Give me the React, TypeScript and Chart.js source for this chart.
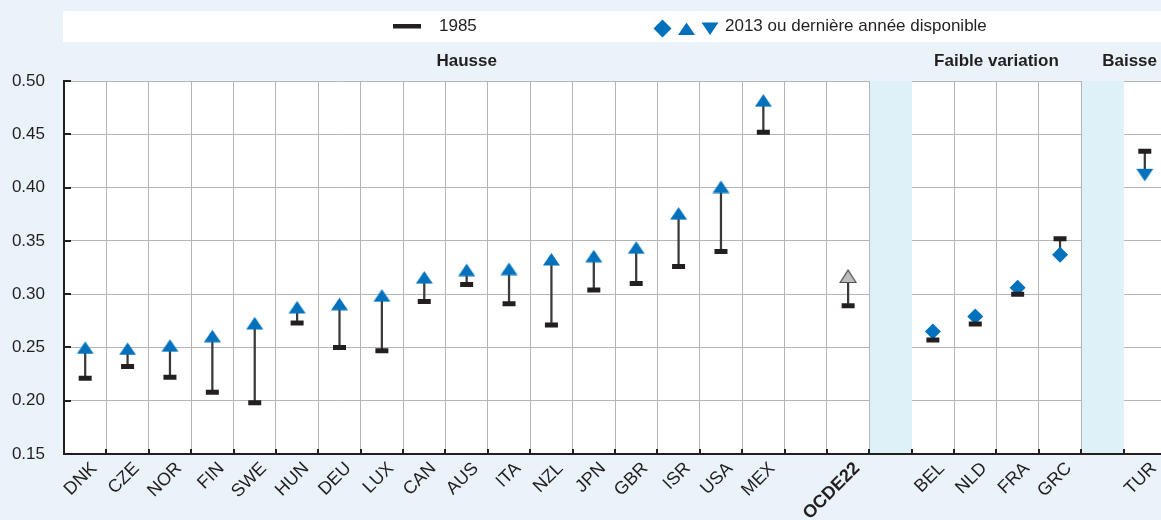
import React, { useEffect, useRef } from 'react';
import { Chart, registerables } from 'chart.js';

Chart.register(...registerables);

// ---------- data ----------
const categories = [
  'DNK', 'CZE', 'NOR', 'FIN', 'SWE', 'HUN', 'DEU', 'LUX', 'CAN', 'AUS', 'ITA', 'NZL', 'JPN',
  'GBR', 'ISR', 'USA', 'MEX', '', 'OCDE22', '', 'BEL', 'NLD', 'FRA', 'GRC', '', 'TUR',
];

const values1985 = [
  0.221, 0.232, 0.222, 0.208, 0.198, 0.273, 0.250, 0.247, 0.293, 0.309, 0.291, 0.271, 0.304,
  0.310, 0.326, 0.340, 0.452, null, 0.289, null, 0.257, 0.272, 0.300, 0.352, null, 0.434,
];

const values2013 = [
  0.250, 0.249, 0.252, 0.261, 0.273, 0.288, 0.291, 0.299, 0.316, 0.323, 0.324, 0.333, 0.336,
  0.344, 0.376, 0.401, 0.482, null, 0.317, null, 0.265, 0.279, 0.306, 0.337, null, 0.412,
];

// kind of change for the 2013 marker
const markerKinds = [
  'up', 'up', 'up', 'up', 'up', 'up', 'up', 'up', 'up', 'up', 'up', 'up', 'up',
  'up', 'up', 'up', 'up', 'none', 'oecd', 'none', 'flat', 'flat', 'flat', 'flat', 'none', 'down',
];

const groupHeadings = [
  { text: 'Hausse', first: 0, last: 18 },
  { text: 'Faible variation', first: 20, last: 23 },
  { text: 'Baisse', first: 25, last: 25 },
];

const shadedColumns = [19, 24];

const yMin = 0.15;
const yMax = 0.5;
const yStep = 0.05;

const legendLabel1985 = '1985';
const legendLabel2013 = '2013 ou dernière année disponible';

// ---------- styles ----------
const FONT = "'Liberation Sans', Arial, Helvetica, sans-serif";
const BLUE = '#0071BC';
const DARK = '#231F20';
const GRID = '#B5B5B5';
const PAGE_BG = '#EBF3FA';
const SHADE = '#DEF1F9';

function makeTriangle(w: number, h: number, fill: string, stroke: string | null, down: boolean) {
  const c = document.createElement('canvas');
  c.width = w + 2;
  c.height = h + 2;
  const ctx = c.getContext('2d')!;
  ctx.beginPath();
  if (!down) {
    ctx.moveTo(c.width / 2, 1);
    ctx.lineTo(w + 1, h + 1);
    ctx.lineTo(1, h + 1);
  } else {
    ctx.moveTo(1, 1);
    ctx.lineTo(w + 1, 1);
    ctx.lineTo(c.width / 2, h + 1);
  }
  ctx.closePath();
  ctx.fillStyle = fill;
  ctx.fill();
  if (stroke) {
    ctx.strokeStyle = stroke;
    ctx.lineWidth = 1.2;
    ctx.stroke();
  }
  return c;
}

const decorPlugin = {
  id: 'decor',
  beforeDraw(chart: any) {
    const { ctx, width, height, chartArea: a } = chart;
    ctx.save();
    ctx.fillStyle = PAGE_BG;
    ctx.fillRect(0, 0, width, height);
    ctx.fillStyle = '#FFFFFF';
    ctx.fillRect(a.left, a.top, width - a.left, a.bottom - a.top);
    // legend box
    ctx.fillRect(63, 11, width - 63, 31);
    const ly = 26.5;
    ctx.fillStyle = DARK;
    ctx.fillRect(393, 24, 28, 4.5);
    ctx.font = `17px ${FONT}`;
    ctx.textBaseline = 'middle';
    ctx.textAlign = 'left';
    ctx.fillText(legendLabel1985, 439, ly);
    // diamond
    ctx.fillStyle = BLUE;
    ctx.beginPath();
    ctx.moveTo(662.5, 19.5);
    ctx.lineTo(671.5, 28.5);
    ctx.lineTo(662.5, 37.5);
    ctx.lineTo(653.5, 28.5);
    ctx.closePath();
    ctx.fill();
    // up triangle
    ctx.beginPath();
    ctx.moveTo(686.5, 22.5);
    ctx.lineTo(695, 35);
    ctx.lineTo(678, 35);
    ctx.closePath();
    ctx.fill();
    // down triangle
    ctx.beginPath();
    ctx.moveTo(701.5, 22.5);
    ctx.lineTo(718.5, 22.5);
    ctx.lineTo(710, 35);
    ctx.closePath();
    ctx.fill();
    ctx.fillStyle = DARK;
    ctx.fillText(legendLabel2013, 725, ly);

    // group headings
    const xs = chart.scales.x;
    const half = (xs.getPixelForTick(1) - xs.getPixelForTick(0)) / 2;
    ctx.font = `bold 17px ${FONT}`;
    ctx.textAlign = 'center';
    groupHeadings.forEach((g) => {
      const l = xs.getPixelForTick(g.first) - half;
      const r = xs.getPixelForTick(g.last) + half;
      let cx = (l + r) / 2;
      const w = ctx.measureText(g.text).width;
      const maxRight = 1157;
      if (cx + w / 2 > maxRight) cx = maxRight - w / 2;
      ctx.fillText(g.text, cx, 61);
    });
    ctx.restore();
  },
  beforeDatasetsDraw(chart: any) {
    const { ctx, chartArea: a } = chart;
    const xs = chart.scales.x;
    const half = (xs.getPixelForTick(1) - xs.getPixelForTick(0)) / 2;
    ctx.save();
    ctx.fillStyle = SHADE;
    shadedColumns.forEach((i) => {
      const c = xs.getPixelForTick(i);
      const l = Math.round(c - half) + 1;
      const r = Math.round(c + half);
      ctx.fillRect(l, a.top, r - l, a.bottom - 1 - a.top);
    });
    ctx.restore();
  },
  afterDraw(chart: any) {
    const { ctx, chartArea: a } = chart;
    const xs = chart.scales.x;
    const ys = chart.scales.y;
    const half = (xs.getPixelForTick(1) - xs.getPixelForTick(0)) / 2;
    ctx.save();
    ctx.strokeStyle = DARK;
    ctx.lineWidth = 2;
    // inner ticks on y axis
    ys.ticks.forEach((t: any) => {
      const y = Math.round(ys.getPixelForValue(t.value));
      ctx.beginPath();
      ctx.moveTo(a.left - 1, y);
      ctx.lineTo(a.left + 7, y);
      ctx.stroke();
    });
    // inner ticks on x axis at column boundaries
    for (let i = 0; i < categories.length; i++) {
      const x = Math.round(xs.getPixelForTick(i) + half);
      ctx.beginPath();
      ctx.moveTo(x, a.bottom);
      ctx.lineTo(x, a.bottom - 5);
      ctx.stroke();
    }
    ctx.restore();
  },
};

export default function App() {
  const ref = useRef<HTMLCanvasElement | null>(null);

  useEffect(() => {
    document.body.style.margin = '0';
    document.body.style.background = PAGE_BG;
    const canvas = ref.current;
    if (!canvas) return;

    const triUp = makeTriangle(17, 12.5, BLUE, null, false);
    const triDown = makeTriangle(17, 12.5, BLUE, null, true);
    const triOecd = makeTriangle(16, 12.5, '#BDBDBD', '#4A4A4A', false);

    const styles2013 = markerKinds.map((k) =>
      k === 'flat' ? 'rectRot' : k === 'down' ? triDown : k === 'oecd' ? triOecd : triUp
    );
    const radii2013 = markerKinds.map((k) => (k === 'flat' ? 8 : 9));

    const chart = new Chart(canvas, {
      type: 'bar',
      data: {
        labels: categories,
        datasets: [
          {
            type: 'bar',
            label: 'range',
            data: values1985.map((v, i) =>
              v == null || values2013[i] == null ? null : [v, values2013[i] as number]
            ) as any,
            backgroundColor: '#3A3A3A',
            barThickness: 1.6,
            order: 3,
          },
          {
            type: 'line',
            label: legendLabel2013,
            data: values2013 as any,
            showLine: false,
            pointStyle: styles2013 as any,
            pointRadius: radii2013,
            backgroundColor: BLUE,
            borderColor: BLUE,
            borderWidth: 0,
            order: 2,
          },
          {
            type: 'line',
            label: legendLabel1985,
            data: values1985 as any,
            showLine: false,
            pointStyle: 'line',
            pointRadius: 6.5,
            borderWidth: 5,
            borderColor: DARK,
            backgroundColor: DARK,
            order: 1,
          },
        ],
      },
      options: {
        responsive: false,
        animation: false,
        devicePixelRatio: 1,
        events: [],
        layout: { autoPadding: false, padding: { top: 81, right: 4, left: 0, bottom: 0 } },
        plugins: {
          legend: { display: false },
          tooltip: { enabled: false },
          title: { display: false },
        },
        scales: {
          x: {
            type: 'category',
            offset: true,
            grid: { offset: true, color: GRID, lineWidth: 1, drawTicks: false },
            border: { display: true, color: DARK, width: 2 },
            ticks: {
              autoSkip: false,
              maxRotation: 45,
              minRotation: 45,
              padding: 4,
              labelOffset: 9,
              color: DARK,
              font: (ctx: any) => ({
                family: FONT,
                size: 18,
                weight: ctx.tick && ctx.tick.label === 'OCDE22' ? 'bold' : 'normal',
              }),
            },
            afterFit: (scale: any) => {
              scale.height = 66;
              scale.paddingLeft = 0;
              scale.paddingRight = 0;
            },
          },
          y: {
            min: yMin,
            max: yMax,
            grid: { color: GRID, lineWidth: 1, drawTicks: false },
            border: { display: true, color: DARK, width: 2 },
            ticks: {
              stepSize: yStep,
              padding: 19,
              color: DARK,
              font: { family: FONT, size: 17 },
              callback: (v: any) => Number(v).toFixed(2),
            },
            afterFit: (scale: any) => {
              scale.width = 64;
              scale.paddingTop = 0;
              scale.paddingBottom = 0;
            },
          },
        },
      },
      plugins: [decorPlugin],
    });

    return () => chart.destroy();
  }, []);

  return (
    <div style={{ width: 1161, height: 520, overflow: 'hidden', position: 'relative', background: PAGE_BG }}>
      <canvas ref={ref} width={1170} height={520} style={{ display: 'block', width: 1170, height: 520 }} />
    </div>
  );
}
